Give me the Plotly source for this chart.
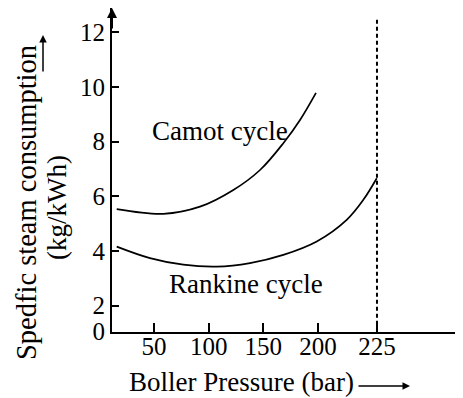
import plotly.graph_objects as go

# Data (x in the chart's drawn axis units; the "225" tick sits at 254)
camot_x = [15.9, 58.5, 92.1, 122.6, 147.0, 168.3, 183.6, 198.2]
camot_y = [5.53, 5.36, 5.62, 6.23, 6.96, 7.94, 8.79, 9.78]
rankine_x = [15.9, 46.3, 76.8, 107.4, 137.8, 168.3, 198.9, 226.3, 241.5, 253.8]
rankine_y = [4.16, 3.74, 3.50, 3.43, 3.56, 3.86, 4.35, 5.14, 5.87, 6.66]
limit_x = [254, 254]
limit_y = [1.05, 12.5]

x_tickvals = [50, 100, 150, 200, 254]
x_ticktext = ["50", "100", "150", "200", "225"]
y_tickvals = [1.05, 2, 4, 6, 8, 10, 12]
y_ticktext = ["0", "2", "4", "6", "8", "10", "12"]

FONT = "Liberation Serif, Times New Roman, serif"

OFF = 8  # page body margin
W, H = 463 - OFF, 398 - OFF
ML, MR, MT, MB = 112 - OFF, 0, 8 - OFF, 66
PW, PH = W - ML - MR, H - MT - MB


def px(x):
    return (x - OFF - ML) / PW


def py(y):
    return (H - MB - (y - OFF)) / PH


fig = go.Figure()
fig.add_trace(go.Scatter(x=camot_x, y=camot_y, mode="lines",
                         line=dict(color="black", width=1.7, shape="spline")))
fig.add_trace(go.Scatter(x=rankine_x, y=rankine_y, mode="lines",
                         line=dict(color="black", width=1.7, shape="spline")))
fig.add_trace(go.Scatter(x=limit_x, y=limit_y, mode="lines",
                         line=dict(color="black", width=2, dash="4px,3px")))

XMIN, XMAX = 11.57, 332.7
YMIN, YMAX = 1.04, 12.88

TXT = 27
fig.update_layout(
    width=W, height=H,
    margin=dict(l=ML, r=MR, t=MT, b=MB, pad=0),
    paper_bgcolor="white", plot_bgcolor="white",
    showlegend=False,
    font=dict(family=FONT, color="black", size=25),
    xaxis=dict(range=[XMIN, XMAX], showgrid=False, zeroline=False,
               showline=True, linecolor="black", linewidth=2,
               ticks="inside", ticklen=9, tickwidth=1.5, tickcolor="black",
               tickvals=x_tickvals, ticktext=x_ticktext, ticklabelstandoff=-9,
               tickfont=dict(family=FONT, size=25, color="black")),
    yaxis=dict(range=[YMIN, YMAX], showgrid=False, zeroline=False,
               showline=True, linecolor="black", linewidth=2,
               ticks="inside", ticklen=7, tickwidth=1.5, tickcolor="black",
               tickvals=y_tickvals, ticktext=y_ticktext,
               tickfont=dict(family=FONT, size=25, color="black")),
)

# Arrowhead at the top of the y axis
fig.add_annotation(x=XMIN, y=YMAX, xref="x", yref="y", text="", showarrow=True,
                   ax=0, ay=22, arrowhead=2, arrowsize=1, arrowwidth=2, arrowcolor="black")


def label(x, y, text, angle=0, size=TXT):
    fig.add_annotation(x=px(x), y=py(y), xref="paper", yref="paper", text=text,
                       showarrow=False, xanchor="center", yanchor="middle",
                       textangle=angle, font=dict(family=FONT, size=size, color="black"))


# Curve labels
label(220, 131, "Camot cycle")
label(246, 284, "Rankine cycle")

# Axis titles
label(241, 382, "Boller Pressure (bar)")
fig.add_annotation(x=px(410), y=py(386), xref="paper", yref="paper",
                   text="", showarrow=True, ax=-53, ay=0,
                   arrowhead=2, arrowsize=1, arrowwidth=1.5, arrowcolor="black")

label(26, 203, "Spedfic steam consumption", -90, 28.5)
label(57, 208, "(kg/kWh)", -90)
fig.add_annotation(x=px(43), y=py(35), xref="paper", yref="paper",
                   text="", showarrow=True, ax=0, ay=38,
                   arrowhead=2, arrowsize=1, arrowwidth=1.5, arrowcolor="black")

fig.write_html("out.html")
